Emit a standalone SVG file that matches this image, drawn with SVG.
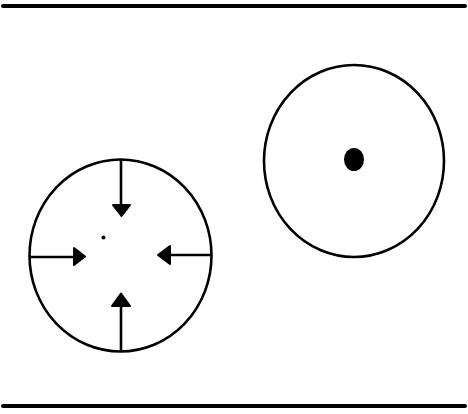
<svg xmlns="http://www.w3.org/2000/svg" width="468" height="414" viewBox="0 0 468 414">
<style>
.rule{stroke:#000;stroke-width:4;stroke-linecap:round}
.ring{fill:none;stroke:#000;stroke-width:2.6}
.shaft{stroke:#000;stroke-width:2.6;fill:none}
.head{fill:#000;stroke:#000;stroke-width:2;stroke-linejoin:round}
</style>
<rect width="468" height="414" fill="#fff"/>
<line class="rule" x1="3" y1="6" x2="465" y2="6"/>
<line class="rule" x1="3" y1="406" x2="465" y2="406"/>
<g id="left-circle">
<ellipse class="ring" cx="120.5" cy="255.5" rx="91" ry="96"/>
<circle cx="103.5" cy="237.5" r="2" fill="#000"/>
</g>
<g id="connectors">
<line class="shaft" x1="121" y1="160" x2="121" y2="206"/>
<polygon class="head" points="113,205 130,205 121.5,216"/>
<line class="shaft" x1="30" y1="257" x2="75" y2="257"/>
<polygon class="head" points="74,248 74,265 85,256.5"/>
<line class="shaft" x1="211" y1="255" x2="169" y2="255"/>
<polygon class="head" points="170,246 170,264 158,255"/>
<line class="shaft" x1="121" y1="351" x2="121" y2="305"/>
<polygon class="head" points="112,306 130,306 121,293.5"/>
</g>
<g id="right-circle">
<ellipse class="ring" cx="354" cy="161" rx="90" ry="96"/>
<ellipse cx="354" cy="159.5" rx="10" ry="11.5" fill="#000"/>
</g>
</svg>
